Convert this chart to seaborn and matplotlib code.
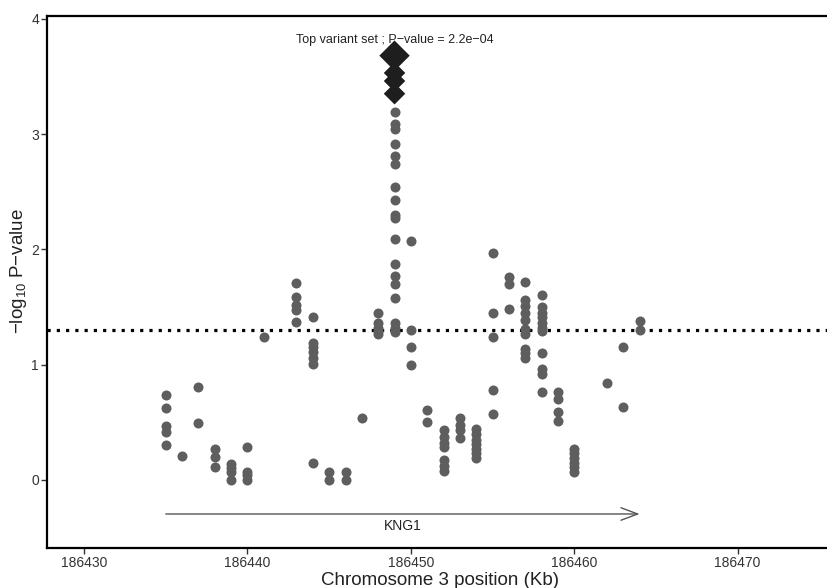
import numpy as np
import pandas as pd
import matplotlib
matplotlib.use("Agg")
import matplotlib.pyplot as plt
import seaborn as sns

# ---- data (position in Kb, -log10 P) ----
snp_pos = (
    [186435] * 5 + [186436] + [186437] * 2 + [186438] * 3 + [186439] * 4 + [186440] * 4 +
    [186441] + [186443] * 5 + [186444] * 7 + [186445] * 2 + [186446] * 2 + [186447] +
    [186448] * 5 + [186449] * 18 + [186450] * 4 + [186451] * 2 + [186452] * 7 +
    [186453] * 4 + [186454] * 7 + [186455] * 5 + [186456] * 3 + [186457] * 10 +
    [186458] * 11 + [186459] * 4 + [186460] * 6 + [186462] + [186463] * 2 + [186464] * 2
)
snp_logp = [
    0.74, 0.62, 0.47, 0.42, 0.30,
    0.21,
    0.81, 0.49,
    0.27, 0.20, 0.11,
    0.14, 0.10, 0.07, 0.00,
    0.29, 0.07, 0.04, 0.00,
    1.24,
    1.71, 1.59, 1.52, 1.47, 1.37,
    1.41, 1.19, 1.15, 1.11, 1.06, 1.01, 0.15,
    0.07, 0.00,
    0.07, 0.00,
    0.54,
    1.45, 1.36, 1.32, 1.29, 1.27,
    3.19, 3.09, 3.04, 2.91, 2.81, 2.74, 2.54, 2.43, 2.30, 2.27, 2.09, 1.87, 1.77, 1.70, 1.58, 1.36, 1.32, 1.28,
    2.07, 1.30, 1.15, 1.00,
    0.61, 0.50,
    0.43, 0.37, 0.32, 0.29, 0.17, 0.12, 0.08,
    0.54, 0.48, 0.43, 0.36,
    0.44, 0.40, 0.35, 0.31, 0.27, 0.23, 0.19,
    1.97, 1.45, 1.24, 0.78, 0.57,
    1.76, 1.70, 1.48,
    1.72, 1.56, 1.51, 1.45, 1.39, 1.31, 1.27, 1.14, 1.10, 1.06,
    1.60, 1.50, 1.45, 1.41, 1.36, 1.32, 1.29, 1.10, 0.96, 0.92, 0.76,
    0.76, 0.70, 0.59, 0.51,
    0.27, 0.23, 0.19, 0.15, 0.11, 0.07,
    0.84,
    1.15, 0.63,
    1.38, 1.30,
]
top_pos = [186449, 186449, 186449, 186449]
top_logp = [3.68, 3.53, 3.46, 3.35]
top_size = ["big", "small", "small", "small"]

gene_name = "KNG1"
gene_start = 186435
gene_end = 186464
sig_threshold = 0.05
top_label = "Top variant set ; P\u2212value = 2.2e\u221204"
x_ticks = [186430, 186440, 186450, 186460, 186470]
y_ticks = [0, 1, 2, 3, 4]

# ---- figure ----
sns.set_style("white")
plt.rcParams["font.family"] = ["Liberation Sans", "DejaVu Sans"]
plt.rcParams["mathtext.default"] = "regular"

fig = plt.figure(figsize=(8.27, 5.88), dpi=100)
xlim = (186427.75, 186477.0)
left = 47.3 / 827
width = (xlim[1] - xlim[0]) * 16.34 / 827
bottom = 1 - 548 / 588
top = 1 - 16 / 588
ax = fig.add_axes([left, bottom, width, top - bottom])

snps = pd.DataFrame({"pos": snp_pos, "logp": snp_logp})
tops = pd.DataFrame({"pos": top_pos, "logp": top_logp, "size": top_size})

sns.scatterplot(data=snps, x="pos", y="logp", ax=ax, color="#5e5e5e",
                s=52, linewidth=0, zorder=3)
sns.scatterplot(data=tops, x="pos", y="logp", ax=ax, color="#1e1e1e",
                marker="D", size="size", sizes={"big": 240, "small": 120},
                linewidth=0, zorder=4, legend=False)

ax.axhline(-np.log10(sig_threshold), color="black", lw=2.3,
           linestyle=(0, (1, 1.9)), zorder=2)

ax.annotate("", xy=(gene_end, -0.295), xytext=(gene_start, -0.295),
            arrowprops=dict(arrowstyle="->,head_length=1.2,head_width=0.45",
                            color="#555555", lw=1.0, shrinkA=0, shrinkB=0))
ax.text((gene_start + gene_end) / 2, -0.395, gene_name, ha="center", va="center",
        fontsize=10, color="#222222")
ax.text(top_pos[0], 3.82, top_label, ha="center", va="center",
        fontsize=9, color="#222222")

ax.set_xlim(*xlim)
ax.set_ylim(-0.59, 4.024)
ax.set_xticks(x_ticks)
ax.set_xticklabels([str(t) for t in x_ticks])
ax.set_yticks(y_ticks)
ax.tick_params(axis="both", direction="out", length=4, width=1.0, color="#333333",
               labelsize=10, labelcolor="#333333", pad=2, bottom=True, left=True)
for side in ["left", "bottom", "top", "right"]:
    ax.spines[side].set_visible(True)
    ax.spines[side].set_color("black")
    ax.spines[side].set_linewidth(1.6)

ax.set_xlabel("Chromosome 3 position (Kb)", fontsize=13.5, color="#222222")
ax.set_ylabel("$-log_{10}$ P\u2212value", fontsize=13.5, color="#222222")
ax.xaxis.set_label_coords((440 - 47.3) / (width * 827), -0.045)
ax.yaxis.set_label_coords(-0.023, 0.52)

fig.savefig("out.png", dpi=100)
